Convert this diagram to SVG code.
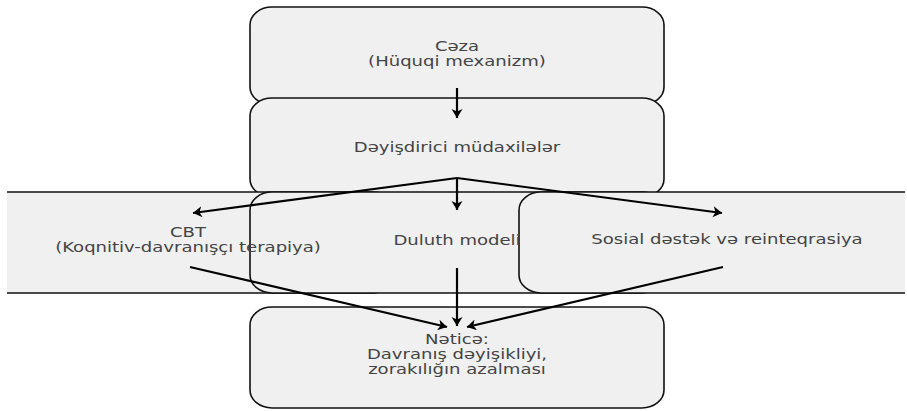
<svg xmlns="http://www.w3.org/2000/svg" width="907" height="411" viewBox="0 0 907 411">
  <style>
    .box { fill: #f0f0f0; stroke: #111; stroke-width: 1.6; }
    .lbl { font-family: "DejaVu Sans", "Liberation Sans", sans-serif; font-size: 14px; fill: #444; text-anchor: middle; }
    .edge { stroke: #000; stroke-width: 2.2; fill: none; marker-end: url(#head); }
  </style>
  <defs>
    <marker id="head" markerUnits="userSpaceOnUse" markerWidth="12" markerHeight="12" refX="9" refY="5.5" orient="auto">
      <path d="M0,0 L9,5.5 L0,11 L2.5,5.5 z" fill="#000"/>
    </marker>
    <clipPath id="clip">
      <rect x="7" y="0" width="898" height="411"/>
    </clipPath>
  </defs>
  <rect width="907" height="411" fill="#fff"/>

  <g clip-path="url(#clip)">
    <g id="node-ceza">
      <rect class="box" x="250" y="7" width="414" height="98" rx="22" ry="18"/>
    </g>
    <g id="node-deyisdirici">
      <rect class="box" x="250" y="98" width="414" height="99" rx="22" ry="18"/>
    </g>
    <g id="node-cbt">
      <rect class="box" x="-19" y="192" width="414" height="101" rx="22" ry="18"/>
    </g>
    <g id="node-duluth">
      <rect class="box" x="250" y="192" width="414" height="101" rx="22" ry="18"/>
    </g>
    <g id="node-sosial">
      <rect class="box" x="519" y="192" width="414" height="101" rx="22" ry="18"/>
    </g>
    <g id="node-netice">
      <rect class="box" x="250" y="307" width="414" height="101" rx="22" ry="18"/>
    </g>
  </g>

  <g id="labels">
    <text class="lbl" transform="translate(457,0) scale(1.29,1)"><tspan x="0" y="51">Cəza</tspan><tspan x="0" y="66">(Hüquqi mexanizm)</tspan></text>
    <text class="lbl" transform="translate(457,0) scale(1.29,1)" x="0" y="152">Dəyişdirici müdaxilələr</text>
    <text class="lbl" transform="translate(188,0) scale(1.29,1)"><tspan x="0" y="237">CBT</tspan><tspan x="0" y="252">(Koqnitiv-davranışçı terapiya)</tspan></text>
    <text class="lbl" transform="translate(457,0) scale(1.29,1)" x="0" y="245">Duluth modeli</text>
    <text class="lbl" transform="translate(727,0) scale(1.29,1)" x="0" y="244">Sosial dəstək və reinteqrasiya</text>
    <text class="lbl" transform="translate(457,0) scale(1.29,1)"><tspan x="0" y="344">Nəticə:</tspan><tspan x="0" y="359">Davranış dəyişikliyi,</tspan><tspan x="0" y="374">zorakılığın azalması</tspan></text>
  </g>

  <g id="connectors">
    <line class="edge" x1="457" y1="88" x2="457" y2="118"/>
    <line class="edge" x1="457" y1="178" x2="193" y2="213"/>
    <line class="edge" x1="457" y1="178" x2="457" y2="210"/>
    <line class="edge" x1="457" y1="178" x2="722" y2="213"/>
    <line class="edge" x1="190" y1="267" x2="447" y2="327"/>
    <line class="edge" x1="457" y1="268" x2="457" y2="326"/>
    <line class="edge" x1="723" y1="267" x2="467" y2="327"/>
  </g>
</svg>
